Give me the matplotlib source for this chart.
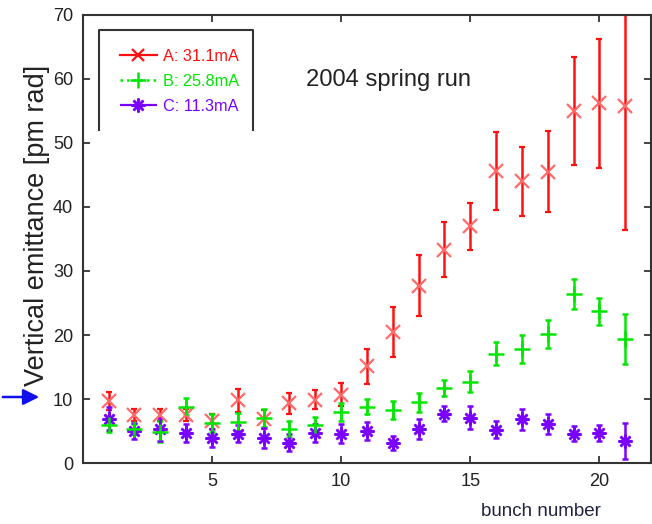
import matplotlib
matplotlib.use("Agg")
import matplotlib.pyplot as plt
from matplotlib import font_manager
from matplotlib.lines import Line2D

# font check: narrow font for the horizontal texts if we have it
names = {f.name for f in font_manager.fontManager.ttflist}
if 'Liberation Sans Narrow' in names:
    narrow = 'Liberation Sans Narrow'
    k = 1.0
else:
    narrow = 'Liberation Sans'
    k = 0.9

bunch = list(range(1, 22))

a_val = [9.7, 7.5, 7.5, 7.5, 6.5, 9.8, 6.8, 9.3, 9.9, 10.7, 15.1, 20.4, 27.7,
         33.3, 37.0, 45.6, 44.0, 45.5, 55.0, 56.2, 55.8]
a_err = [1.4, 1.0, 1.0, 1.0, 1.2, 1.8, 1.5, 1.7, 1.5, 1.8, 2.7, 3.9, 4.8,
         4.3, 3.7, 6.1, 5.4, 6.3, 8.4, 10.1, 19.4]

b_val = [6.0, 5.3, 4.9, 8.8, 6.3, 6.4, 7.1, 5.3, 6.0, 8.0, 8.8, 8.3, 9.5,
         11.7, 12.7, 17.1, 17.8, 20.2, 26.4, 23.7, 19.4]
b_err = [1.2, 0.8, 1.6, 1.3, 1.4, 1.4, 1.4, 1.2, 1.2, 1.4, 1.2, 1.4, 1.5,
         1.2, 1.6, 1.8, 2.2, 2.2, 2.3, 2.1, 3.9]

c_val = [6.9, 5.0, 5.3, 4.7, 3.9, 4.6, 3.9, 3.2, 4.7, 4.6, 5.0, 3.1, 5.3,
         7.7, 7.1, 5.2, 6.8, 6.1, 4.6, 4.7, 3.4]
c_err = [1.8, 1.2, 1.8, 1.4, 1.4, 1.3, 1.6, 1.3, 1.4, 1.5, 1.4, 1.1, 1.5,
         1.2, 1.8, 1.3, 1.6, 1.6, 1.2, 1.3, 2.8]

labels = ['A: 31.1mA', 'B: 25.8mA', 'C: 11.3mA']
red = '#ff1010'
green = '#00e600'
purple = '#7a00ff'
asterisk = (8, 2, 0)

fig = plt.figure(figsize=(6.52, 5.24), dpi=100)
ax = fig.add_axes([0.127, 0.1164, 0.8715, 0.855])

ax.errorbar(bunch, a_val, yerr=a_err, fmt='x', color=red, mec='#ff6a6a',
            ms=9.5, mew=1.6, elinewidth=1.8, capsize=2.5, capthick=1.8)
ax.errorbar(bunch, b_val, yerr=b_err, fmt='+', color=green,
            ms=11, mew=1.8, elinewidth=1.8, capsize=2.5, capthick=1.8)
ax.errorbar(bunch, c_val, yerr=c_err, fmt='none', ecolor=purple,
            elinewidth=1.8, capsize=2.5, capthick=1.8)
ax.plot(bunch, c_val, ls='none', marker=asterisk, color=purple, ms=10, mew=1.8)

ax.set_xlim(0, 22)
ax.set_ylim(0, 70)
ax.set_xticks([5, 10, 15, 20])
ax.set_yticks(range(0, 71, 10))
ax.tick_params(direction='in', top=True, right=True, length=5, width=1.2,
               labelsize=14.5 * k, pad=7, colors='#222222')
for lab in ax.get_xticklabels() + ax.get_yticklabels():
    lab.set_fontfamily(narrow)
for s in ax.spines.values():
    s.set_linewidth(1.5)
    s.set_color('#333333')

ax.set_ylabel('Vertical emittance [pm rad]', fontsize=19.5,
              family='Liberation Sans', color='#222222')
ax.yaxis.set_label_coords(-0.058, 0.53)

ax.text(11.84, 59.8, '2004 spring run', fontsize=19 * k, family=narrow,
        ha='center', va='center', color='#222222')
fig.text(541 / 652, 1 - 512 / 524, 'bunch number', fontsize=15 * k,
         family=narrow, ha='center', va='center', color='#222244')

# legend box, bottom side is missing in the original
bx0, bx1, by0, by1 = 0.028, 0.299, 0.743, 0.9665
ax.plot([bx0, bx0, bx1, bx1], [by0, by1, by1, by0], color='#333333',
        lw=1.5, transform=ax.transAxes, clip_on=False)

handles = [
    Line2D([], [], color=red, ls='-', marker='x', ms=9, mew=1.6, lw=1.6),
    Line2D([], [], color=green, ls=':', marker='+', ms=11, mew=1.8, lw=1.8),
    Line2D([], [], color=purple, ls='-.', marker=asterisk, ms=10, mew=1.8, lw=1.6),
]
leg = ax.legend(handles, labels, loc='upper left', bbox_to_anchor=(0.065, 0.925),
                frameon=False, borderpad=0, borderaxespad=0, handlelength=2.3,
                handletextpad=0.35, labelspacing=0.62, labelcolor='linecolor',
                prop={'family': narrow, 'size': 13 * k})

ax.annotate('', xy=(42, 127), xycoords='figure pixels', xytext=(0, 127),
            textcoords='figure pixels', annotation_clip=False,
            arrowprops=dict(arrowstyle='-|>', color='#1010ee', lw=1.8,
                            mutation_scale=24))

fig.savefig('out.png', dpi=100)
